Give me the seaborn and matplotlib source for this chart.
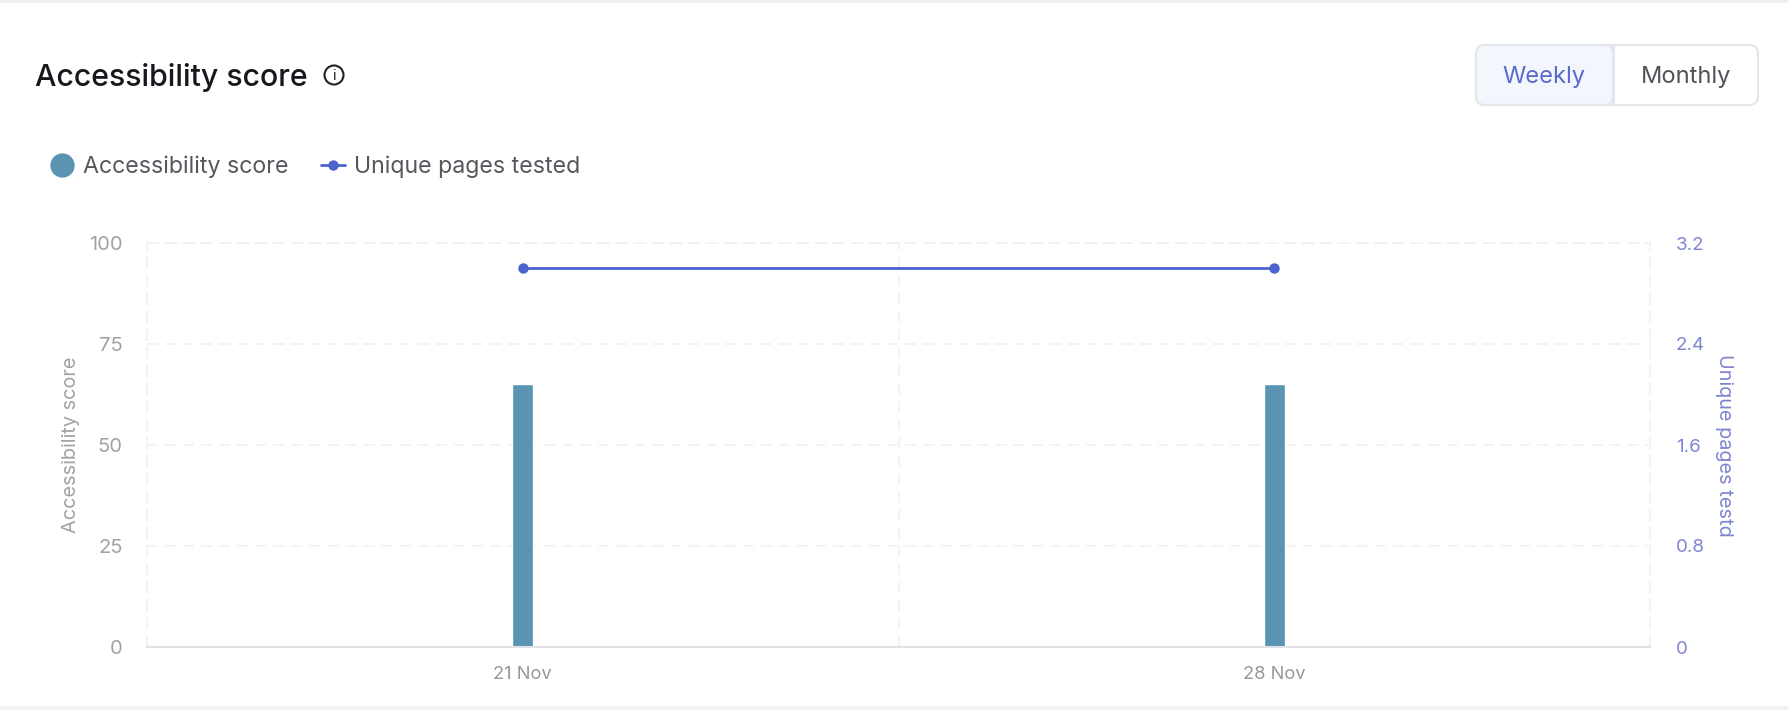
import matplotlib
matplotlib.use("Agg")
import matplotlib.pyplot as plt
from matplotlib.lines import Line2D
from matplotlib.patches import FancyBboxPatch, Rectangle
import pandas as pd
import seaborn as sns

# chart values
weeks = ["21 Nov", "28 Nov"]
accessibility_score = [65, 65]
unique_pages = [3, 3]
score_ticks = [0, 25, 50, 75, 100]
pages_ticks = [0, 0.8, 1.6, 2.4, 3.2]
pages_tick_labels = ["0", "0.8", "1.6", "2.4", "3.2"]

BAR_COLOR = "#5b93b3"
LINE_COLOR = "#4a63cf"
RIGHT_COLOR = "#7f86cf"
GRID_COLOR = "#f1f2f4"
W, H = 1788, 710

sns.set_theme(style="white")
plt.rcParams["font.family"] = ["Inter", "DejaVu Sans"]

df = pd.DataFrame({"week": weeks, "score": accessibility_score, "pages": unique_pages})

fig = plt.figure(figsize=(W / 100, H / 100), dpi=100, facecolor="white")

# page chrome, in pixels
chrome = fig.add_axes([0, 0, 1, 1], zorder=0)
chrome.set_xlim(0, W)
chrome.set_ylim(H, 0)
chrome.axis("off")
chrome.add_patch(Rectangle((0, 0), W, 3, color="#eff0f2", lw=0))
chrome.add_patch(Rectangle((0, 706), W, 4, color="#f1f2f4", lw=0))

chrome.text(35, 77, "Accessibility score", fontsize=21.8, fontweight="medium",
            color="#16181d", va="center", ha="left")
chrome.add_patch(plt.Circle((334, 75), 9.5, fill=False, ec="#222222", lw=1.5))
chrome.text(334, 75.5, "i", fontsize=10.5, color="#222222", ha="center", va="center")

# Weekly / Monthly toggle
chrome.add_patch(FancyBboxPatch((1476, 45), 282, 60, boxstyle="round,pad=0,rounding_size=9",
                                fc="white", ec="#e3e6ea", lw=1.5))
chrome.add_patch(FancyBboxPatch((1476, 45), 137, 60, boxstyle="round,pad=0,rounding_size=9",
                                fc="#f3f6fc", ec="#e3e6ea", lw=1.5))
chrome.add_patch(Rectangle((1612, 45), 3, 60, color="#e3e6ea", lw=0))
chrome.text(1544, 77, "Weekly", fontsize=17, color="#5a6acb", ha="center", va="center")
chrome.text(1686, 77, "Monthly", fontsize=17, color="#4f5257", ha="center", va="center")

# main plot
left, right, top, bottom = 147, 1650, 243, 647
ax = fig.add_axes([left / W, 1 - bottom / H, (right - left) / W, (bottom - top) / H], zorder=1)
ax.patch.set_alpha(0)
sns.barplot(data=df, x="week", y="score", color=BAR_COLOR, width=0.028, saturation=1, ax=ax)
ax.set_xlim(-0.5, 1.5)
ax.set_ylim(0, 100)
ax.set_yticks(score_ticks)
ax.set_xlabel("")
ax.set_ylabel("Accessibility score", fontsize=14.3, color="#a0a2a5", labelpad=0)
ax.yaxis.set_label_coords((80 - left) / (right - left), 0.5)
ax.tick_params(axis="y", length=0, labelsize=14.5, labelcolor="#a0a2a5", pad=17.5)
ax.tick_params(axis="x", length=0, labelsize=13.2, labelcolor="#96989b", pad=14)

ax.set_axisbelow(True)
ax.grid(axis="y", color=GRID_COLOR, lw=1.3, ls=(0, (6, 4)))
ax.axvline(0.5, color=GRID_COLOR, lw=1.3, ls=(0, (6, 4)), zorder=0)
for side in ["top", "left", "right"]:
    ax.spines[side].set_visible(True)
    ax.spines[side].set_color(GRID_COLOR)
    ax.spines[side].set_linewidth(1.3)
    ax.spines[side].set_linestyle((0, (6, 4)))
ax.spines["bottom"].set_color("#dfe3e8")
ax.spines["bottom"].set_linewidth(1.5)

# second axis for pages tested
ax2 = ax.twinx()
sns.lineplot(data=df, x="week", y="pages", color=LINE_COLOR, lw=2, marker="o",
             markersize=7.5, markeredgewidth=0, sort=False, ax=ax2)
ax2.set_ylim(0, 3.2)
ax2.set_yticks(pages_ticks)
ax2.set_yticklabels(pages_tick_labels)
ax2.set_xlabel("")
ax2.set_ylabel("Unique pages testd", fontsize=14.3, color=RIGHT_COLOR, rotation=270, labelpad=0)
ax2.yaxis.set_label_coords((1733 - left) / (right - left), 0.5)
ax2.tick_params(axis="y", length=0, labelsize=13.5, labelcolor=RIGHT_COLOR, pad=18.5)
ax2.grid(False)
for spine in ax2.spines.values():
    spine.set_visible(False)

# legend
handles = [
    Line2D([], [], color="none", marker="o", markersize=17.5, markerfacecolor=BAR_COLOR,
           markeredgewidth=0),
    Line2D([], [], color=LINE_COLOR, lw=2, marker="o", markersize=7.5, markeredgewidth=0),
]
fig.legend(handles, ["Accessibility score", "Unique pages tested"], ncol=2, frameon=False,
           loc="center left", bbox_to_anchor=(50 / W, 1 - 167 / H), fontsize=16.7,
           labelcolor="#55585d", handlelength=1, handletextpad=0.42, columnspacing=1.42,
           borderpad=0, borderaxespad=0)

fig.savefig("out.png", dpi=100)
